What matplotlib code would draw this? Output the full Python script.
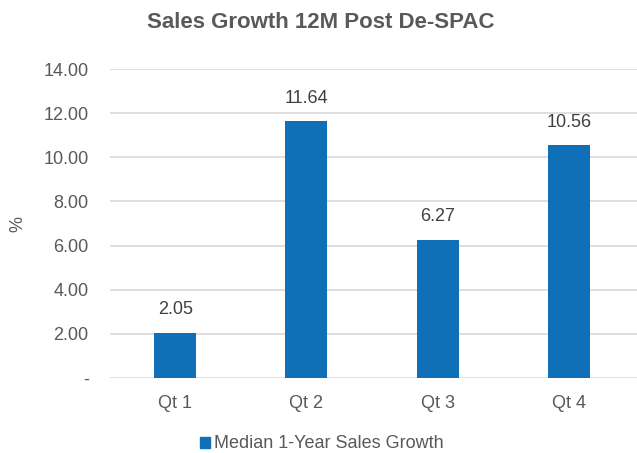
import matplotlib
matplotlib.use("Agg")
import matplotlib.pyplot as plt
from matplotlib.ticker import FuncFormatter

categories = ["Qt 1", "Qt 2", "Qt 3", "Qt 4"]
growth = [2.05, 11.64, 6.27, 10.56]
series_name = "Median 1-Year Sales Growth"

plt.rcParams['font.family'] = ['Liberation Sans', 'DejaVu Sans']
text_color = '#595959'
bar_color = '#0F70B7'

fig = plt.figure(figsize=(6.37, 4.53), dpi=100)
ax = fig.add_axes([0.172, 1 - 378 / 453, 1 - 0.172, 309 / 453])

x = range(len(categories))
ax.bar(x, growth, width=0.32, color=bar_color, zorder=3)
for xi, v in zip(x, growth):
    ax.text(xi, v + 0.65, f"{v:.2f}", ha='center', va='bottom', fontsize=13, color='#404040')

ax.set_xlim(-0.5, 3.52)
ax.set_ylim(0, 14)
ax.set_yticks(range(0, 15, 2))
ax.yaxis.set_major_formatter(FuncFormatter(lambda v, p: "-" if v == 0 else f"{v:.2f}"))
ax.set_xticks(list(x))
ax.set_xticklabels(categories)
ax.tick_params(axis='both', length=0, labelsize=13, colors=text_color)
ax.tick_params(axis='y', pad=15)
ax.tick_params(axis='x', pad=12)
ax.grid(axis='y', color='#D9D9D9', linewidth=1.2, zorder=0)
for s in ax.spines.values():
    s.set_visible(False)

# y axis label placed in figure coords so it stays inside the canvas
fig.text(18 / 637, 1 - 224 / 453, "%", rotation=90, ha='center', va='center',
         fontsize=13, color=text_color)

fig.text(0.504, 1 - 23 / 453, "Sales Growth 12M Post De-SPAC", ha='center', va='center',
         fontsize=16, fontweight='bold', color=text_color)

handle = plt.Rectangle((0, 0), 1, 1, color=bar_color)
fig.legend([handle], [series_name], loc='center', bbox_to_anchor=(0.505, 1 - 444 / 453),
           frameon=False, fontsize=13, labelcolor=text_color, handlelength=0.55,
           handleheight=0.55, handletextpad=0.25)

fig.savefig("out.png", dpi=100)
